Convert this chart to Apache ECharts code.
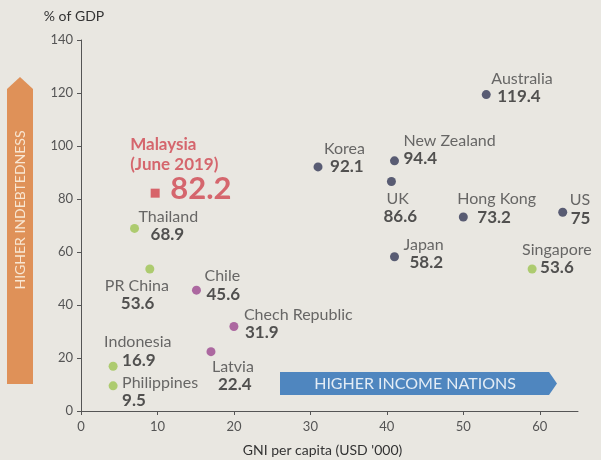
<!DOCTYPE html>
<html>
<head>
<meta charset="utf-8">
<script src="https://cdn.jsdelivr.net/npm/echarts@6/dist/echarts.min.js"></script>
<style>
  html, body { margin: 0; padding: 0; background: #e9e7e1; }
  #chart { width: 601px; height: 460px; }
</style>
</head>
<body>
<div id="chart"></div>
<script>
// GNI per capita (USD '000) and debt as % of GDP
const countries = ['Australia', 'Korea', 'New Zealand', 'UK', 'Hong Kong', 'US', 'Japan', 'Singapore',
  'Thailand', 'PR China', 'Chile', 'Chech Republic', 'Latvia', 'Indonesia', 'Philippines']
const gni = [53, 31, 41, 40.6, 50, 63, 41, 59, 7, 9, 15.1, 20, 17, 4.2, 4.2]
const debt = [119.4, 92.1, 94.4, 86.6, 73.2, 75, 58.2, 53.6, 68.9, 53.6, 45.6, 31.9, 22.4, 16.9, 9.5]
const groups = ['high', 'high', 'high', 'high', 'high', 'high', 'high', 'green',
  'green', 'green', 'mid', 'mid', 'mid', 'green', 'green']

const malaysiaGni = [9.7]
const malaysiaDebt = [82.2]

const xTicks = [0, 10, 20, 30, 40, 50, 60]

// label placement: [dx, dy, nameIndent, valueIndent] from dot centre to text top-left
const labelLayout = {
  'Australia': [5, -25, 0, 6],
  'Korea': [6, -27, 0, 6],
  'New Zealand': [9, -29, 0, 0],
  'UK': [-8, 8, 3, 0],
  'Hong Kong': [-6, -27, 0, 20],
  'US': [7, -21, 0, 1],
  'Japan': [9, -21, 0, 6],
  'Singapore': [-10, -28, 0, 18],
  'Thailand': [4, -21, 0, 12],
  'PR China': [-45, 8, 0, 16],
  'Chile': [8, -23, 0, 2],
  'Chech Republic': [10, -21, 0, 1],
  'Latvia': [1, 6, 0, 6],
  'Indonesia': [-9, -33, 0, 18],
  'Philippines': [9, -12, 0, 0],
}

const groupColors = { high: '#353a58', green: '#9dc452', mid: '#9c4890' }

const points = countries.map((c, i) => {
  const lay = labelLayout[c]
  return {
    name: c,
    value: [gni[i], debt[i]],
    itemStyle: { color: groupColors[groups[i]] },
    label: {
      show: true,
      position: 'inside',
      align: 'left',
      verticalAlign: 'top',
      offset: [lay[0], lay[1]],
      formatter: '{n|' + c + '}\n{v|' + debt[i] + '}',
      rich: {
        n: { fontFamily: 'Lato', fontSize: 16, color: '#464646', lineHeight: 18, padding: [0, 0, 0, lay[2]] },
        v: { fontFamily: 'Lato', fontSize: 17, fontWeight: 'bold', color: '#2b2b2b', lineHeight: 18, padding: [0, 0, 0, lay[3]] },
      },
    },
  }
})

const chart = echarts.init(document.getElementById('chart'))

const option = {
  backgroundColor: '#e9e7e1',
  textStyle: { fontFamily: 'Lato' },
  animation: false,
  grid: { left: 81, right: 23, top: 40, bottom: 49, outerBoundsMode: 'none' },
  xAxis: {
    type: 'value',
    min: 0,
    max: 65,
    interval: 10,
    name: "GNI per capita (USD '000)",
    nameLocation: 'middle',
    nameGap: 32,
    nameTextStyle: { fontFamily: 'Lato', fontSize: 14, color: '#333', padding: [0, 14, 0, 0] },
    splitLine: { show: false },
    axisLine: { lineStyle: { color: '#555' } },
    axisTick: { customValues: xTicks, length: 4, lineStyle: { color: '#555' } },
    axisLabel: { customValues: xTicks, fontFamily: 'Lato', fontSize: 13, color: '#555', margin: 9 },
  },
  yAxis: {
    type: 'value',
    min: 0,
    max: 140,
    interval: 20,
    name: '% of GDP',
    nameGap: 17,
    nameTextStyle: { fontFamily: 'Lato', fontSize: 14, color: '#333', padding: [0, 14, 0, 0] },
    splitLine: { show: false },
    axisLine: { show: true, lineStyle: { color: '#555' } },
    axisTick: { show: true, length: 4, lineStyle: { color: '#555' } },
    axisLabel: { fontFamily: 'Lato', fontSize: 13, color: '#555', margin: 8 },
  },
  graphic: [
    {
      type: 'polygon',
      shape: { points: [[7, 89], [20, 77], [33, 89], [33, 384], [7, 384]] },
      style: { fill: '#df9158' },
    },
    {
      type: 'text',
      x: 20, y: 210,
      rotation: Math.PI / 2,
      style: {
        text: 'HIGHER INDEBTEDNESS',
        fill: '#f8e6d2',
        font: '14px Lato',
        align: 'center',
        verticalAlign: 'middle',
      },
    },
    {
      type: 'polygon',
      shape: { points: [[280, 372], [549, 372], [557, 383.5], [549, 395], [280, 395]] },
      style: { fill: '#4f86bf' },
    },
    {
      type: 'text',
      x: 415, y: 384,
      style: {
        text: 'HIGHER INCOME NATIONS',
        fill: '#e3ecf5',
        font: '16px Lato',
        align: 'center',
        verticalAlign: 'middle',
      },
    },
  ],
  series: [
    {
      type: 'scatter',
      symbolSize: 9,
      data: points,
    },
    {
      type: 'scatter',
      symbol: 'rect',
      symbolSize: 9,
      itemStyle: { color: '#d2434c' },
      data: malaysiaGni.map((g, i) => [g, malaysiaDebt[i]]),
      label: {
        show: true,
        position: 'inside',
        align: 'left',
        verticalAlign: 'top',
        offset: [-25, -59],
        formatter: (p) => '{n|Malaysia}\n{n|(June 2019)}\n{v|' + p.value[1] + '}',
        rich: {
          n: { fontFamily: 'Lato', fontSize: 17, fontWeight: 'bold', color: '#cf4650', lineHeight: 20 },
          v: { fontFamily: 'Lato', fontSize: 31, fontWeight: 'bold', color: '#cf4650', lineHeight: 30, padding: [0, 0, 0, 40] },
        },
      },
    },
  ],
}

chart.setOption(option)
</script>
</body>
</html>
